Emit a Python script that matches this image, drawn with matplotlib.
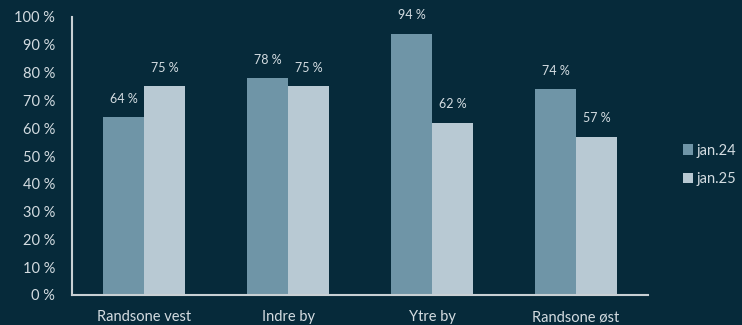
import numpy as np
import matplotlib.pyplot as plt

plt.rcParams['font.family'] = ['Lato', 'DejaVu Sans']

# data
categories = ['Randsone vest', 'Indre by', 'Ytre by', 'Randsone øst']
series_names = ['jan.24', 'jan.25']
jan24 = [64, 78, 94, 74]
jan25 = [75, 75, 62, 57]

bg = '#062a3a'
col24 = '#6f95a7'
col25 = '#b8c9d3'
txt = '#d3dce1'

fig = plt.figure(figsize=(7.42, 3.25), dpi=100, facecolor=bg)
ax = fig.add_axes([72/742, 1 - 295/325, 576/742, 278/325])
ax.set_facecolor(bg)

x = np.arange(len(categories))
w = 0.285
b1 = ax.bar(x - w/2, jan24, w, color=col24, label=series_names[0])
b2 = ax.bar(x + w/2, jan25, w, color=col25, label=series_names[1])

for bars, vals in [(b1, jan24), (b2, jan25)]:
    for r, v in zip(bars, vals):
        ax.annotate(f'{v} %', (r.get_x() + r.get_width()/2, v),
                    xytext=(0, 9), textcoords='offset points',
                    ha='center', va='bottom', color=txt, fontsize=9)

ax.set_xlim(-0.5, 3.5)
ax.set_ylim(0, 100)
ax.set_yticks(range(0, 101, 10))
ax.set_yticklabels([f'{v} %' for v in range(0, 101, 10)])
ax.set_xticks(x)
ax.set_xticklabels(categories)
ax.tick_params(axis='both', length=0, colors=txt, labelsize=10.5)
ax.tick_params(axis='y', pad=12)
ax.tick_params(axis='x', pad=11)

for s in ['top', 'right']:
    ax.spines[s].set_visible(False)
for s in ['left', 'bottom']:
    ax.spines[s].set_color('#c8d0d4')
    ax.spines[s].set_linewidth(1.5)

leg = fig.legend(loc='center left', bbox_to_anchor=(683/742, 1 - 165/325),
                 frameon=False, handlelength=0.7, handleheight=0.7,
                 handletextpad=0.2, labelspacing=1.0, fontsize=10.5,
                 borderpad=0, borderaxespad=0)
for t in leg.get_texts():
    t.set_color(txt)

fig.savefig('out.png', dpi=100, facecolor=bg)
